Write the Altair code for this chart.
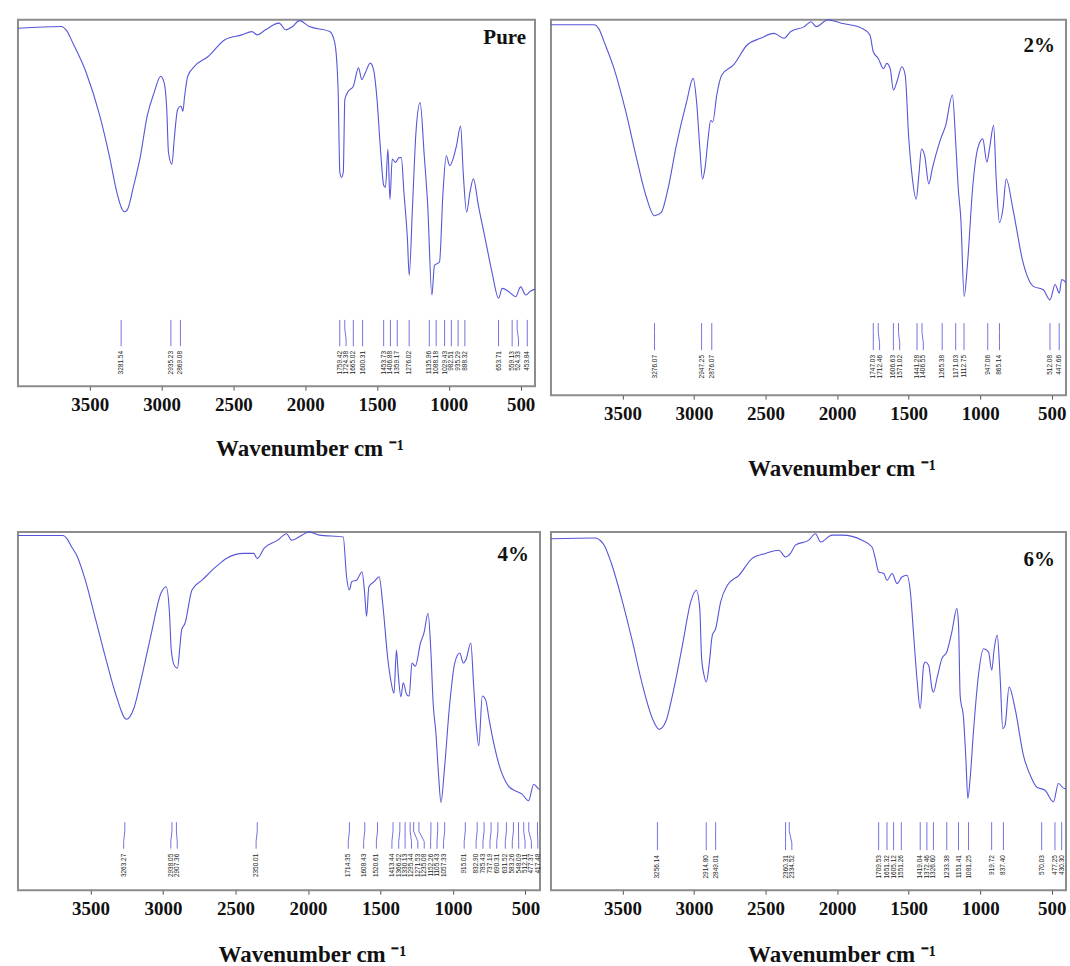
import altair as alt
import pandas as pd

# ---------------- data ----------------
panel_names = ["Pure", "2%", "4%", "6%"]

pure_wn = [4000, 3700, 3660, 3618, 3524, 3430, 3359, 3312, 3276, 3260, 3241, 3194, 3147, 3100, 3053, 3006,
           2982, 2964, 2952, 2928, 2912, 2888, 2865, 2852, 2840, 2818, 2771, 2676, 2559, 2441, 2371,
           2335, 2276, 2182, 2135, 2088, 2041, 1971, 1829, 1794, 1771, 1759, 1747, 1735, 1724, 1700,
           1665, 1629, 1606, 1582, 1547, 1524, 1500, 1476, 1453, 1441, 1424, 1410, 1394, 1371, 1347,
           1331, 1312, 1288, 1276, 1253, 1229, 1200, 1171, 1147, 1118, 1100, 1065, 1041, 1018, 994,
           971, 947, 918, 900, 876, 853, 829, 794, 747, 700, 653, 629, 582, 535, 500, 465, 430, 400]
pure_t = [97.7, 98.2, 97.0, 93.7, 85.5, 73.8, 62.0, 53.0, 48.4, 47.6, 48.0, 54.8, 62.9, 73.8, 80.0, 84.6,
          82.8, 75.6, 63.8, 60.6, 67.4, 75.6, 76.5, 75.0, 79.0, 84.6, 87.3, 90.0, 94.6, 95.9, 96.8,
          95.9, 97.3, 99.1, 97.3, 98.2, 99.8, 98.2, 96.8, 93.7, 81.0, 58.4, 57.0, 58.4, 78.3, 80.5,
          81.9, 86.9, 83.7, 85.5, 88.2, 86.4, 78.3, 64.7, 54.8, 54.3, 64.7, 51.0, 62.0, 61.1, 62.4,
          62.4, 52.6, 40.0, 30.3, 49.0, 69.2, 77.4, 62.9, 49.3, 24.9, 33.0, 33.9, 52.6, 62.9, 60.2,
          62.0, 65.6, 71.0, 58.4, 47.5, 52.9, 56.6, 49.3, 40.3, 31.2, 24.0, 26.7, 25.8, 24.4, 27.1,
          24.9, 26.0, 26.5]

p2_wn = [4000, 3700, 3665, 3629, 3559, 3476, 3406, 3335, 3276, 3229, 3182, 3124, 3053, 3006, 2982, 2959,
         2941, 2924, 2900, 2884, 2869, 2841, 2806, 2724, 2629, 2535, 2441, 2371, 2324, 2229, 2182,
         2147, 2065, 1971, 1829, 1771, 1747, 1712, 1676, 1653, 1629, 1606, 1582, 1547, 1524, 1500,
         1476, 1447, 1429, 1410, 1388, 1359, 1335, 1276, 1241, 1194, 1171, 1153, 1135, 1112, 1088,
         1053, 1018, 982, 953, 935, 906, 888, 865, 841, 818, 771, 700, 629, 559, 512, 476, 447, 430, 400]
p2_t = [98.7, 98.7, 97.6, 94.2, 87.0, 75.4, 63.8, 53.0, 47.8, 48.7, 55.0, 66.5, 78.0, 84.4, 78.1, 65.6,
        57.6, 60.3, 69.0, 73.2, 72.8, 80.0, 85.3, 88.0, 93.3, 95.1, 96.4, 95.1, 96.9, 98.2, 99.5,
        98.2, 100.0, 99.1, 97.8, 96.0, 91.5, 89.7, 87.0, 88.4, 87.0, 81.3, 83.5, 87.5, 85.3, 69.0,
        58.5, 52.2, 58.5, 65.6, 63.8, 56.3, 60.3, 68.3, 71.9, 80.0, 67.4, 55.0, 46.9, 26.3, 35.3,
        55.0, 65.6, 68.3, 62.1, 65.6, 71.9, 57.6, 46.0, 49.6, 57.6, 49.6, 35.3, 29.0, 28.1, 25.4,
        29.5, 27.2, 30.8, 30.0]

p4_wn = [4000, 3690, 3660, 3630, 3595, 3536, 3464, 3393, 3322, 3251, 3203, 3156, 3085, 3014, 2978, 2955,
         2943, 2919, 2900, 2883, 2871, 2848, 2800, 2729, 2634, 2563, 2444, 2374, 2350, 2303, 2208,
         2148, 2113, 2042, 1994, 1923, 1757, 1734, 1715, 1698, 1663, 1627, 1610, 1596, 1580, 1544,
         1509, 1485, 1449, 1426, 1407, 1390, 1378, 1359, 1343, 1319, 1302, 1283, 1260, 1224, 1200,
         1172, 1153, 1137, 1118, 1099, 1083, 1059, 1024, 988, 953, 929, 910, 877, 858, 839, 822,
         798, 775, 751, 715, 680, 620, 573, 526, 479, 443, 405, 400]
p4_t = [99.0, 99.0, 98.0, 95.8, 93.5, 86.6, 75.5, 64.4, 54.2, 47.7, 50.5, 57.9, 70.8, 82.9, 84.7, 77.3,
        67.1, 62.5, 62.0, 68.1, 72.7, 74.5, 83.8, 86.6, 90.3, 92.6, 94.0, 94.0, 92.6, 95.4, 97.7,
        99.5, 97.7, 99.1, 100.0, 99.1, 98.6, 87.5, 83.8, 86.1, 86.6, 88.9, 83.3, 76.4, 84.7, 86.1,
        87.5, 80.1, 64.4, 57.9, 55.0, 67.0, 60.6, 54.0, 57.9, 54.6, 54.2, 63.4, 62.5, 69.0, 71.8,
        77.3, 67.1, 52.3, 44.0, 31.9, 24.5, 33.8, 51.4, 63.4, 66.2, 63.4, 64.4, 69.0, 57.4, 45.8,
        40.3, 54.2, 53.2, 47.7, 40.3, 34.7, 29.2, 27.8, 26.9, 25.0, 29.6, 28.2, 28.2]

p6_wn = [4000, 3686, 3655, 3628, 3581, 3500, 3430, 3360, 3291, 3244, 3198, 3151, 3081, 3023, 2984, 2960,
         2947, 2930, 2914, 2895, 2872, 2849, 2814, 2767, 2686, 2593, 2500, 2407, 2360, 2326, 2291,
         2198, 2151, 2116, 2035, 1965, 1826, 1756, 1733, 1709, 1674, 1651, 1616, 1581, 1547, 1512,
         1488, 1465, 1442, 1419, 1395, 1384, 1360, 1337, 1326, 1302, 1267, 1233, 1198, 1163, 1151,
         1140, 1116, 1100, 1086, 1070, 1047, 1012, 977, 942, 919, 902, 881, 860, 842, 826, 798,
         756, 698, 640, 605, 547, 488, 453, 412, 400]
p6_t = [98.1, 98.3, 97.6, 96.3, 91.6, 80.5, 69.3, 57.2, 47.9, 44.9, 47.0, 54.4, 68.4, 80.5, 83.7, 78.6,
        64.7, 60.0, 58.1, 62.8, 71.2, 73.0, 80.5, 85.1, 87.9, 92.6, 94.0, 94.9, 93.0, 94.0, 96.3,
        97.7, 99.5, 97.2, 99.1, 99.1, 97.7, 95.8, 92.6, 88.8, 88.4, 86.5, 88.4, 85.6, 87.4, 87.9,
        83.3, 71.2, 59.1, 50.7, 62.8, 63.7, 62.8, 56.3, 55.3, 59.1, 64.7, 66.5, 72.1, 78.6, 73.9,
        54.4, 47.9, 36.7, 25.6, 31.2, 44.2, 60.0, 67.4, 66.5, 61.4, 67.4, 71.2, 59.1, 45.1, 46.0,
        56.7, 50.7, 37.7, 31.2, 28.8, 27.9, 24.7, 29.8, 28.4, 28.4]

pure_peaks = [3281.54, 2935.23, 2869.08, 1759.42, 1724.38, 1665.02, 1600.31, 1453.73, 1406.88,
              1359.17, 1276.02, 1135.96, 1088.18, 1029.43, 982.51, 935.29, 888.32, 653.71, 559.13,
              524.33, 453.84]
p2_peaks = [3276.07, 2947.25, 2876.07, 1747.03, 1712.46, 1606.63, 1571.02, 1441.28, 1406.55,
            1265.38, 1171.03, 1112.75, 947.06, 865.14, 512.08, 447.66]
p4_peaks = [3263.27, 2938.05, 2907.36, 2350.01, 1714.35, 1608.43, 1520.61, 1413.44, 1366.52,
            1330.13, 1295.44, 1271.53, 1235.08, 1152.26, 1105.43, 1057.33, 915.01, 832.90, 785.43,
            737.19, 690.31, 631.52, 583.26, 548.09, 512.11, 477.37, 417.48]
p6_peaks = [3256.14, 2914.80, 2849.01, 2360.31, 2334.52, 1709.53, 1651.32, 1605.12, 1551.26,
            1419.04, 1372.46, 1326.60, 1233.38, 1151.41, 1081.25, 919.72, 837.40, 570.03, 477.25,
            430.30]

x_ticks = [3500, 3000, 2500, 2000, 1500, 1000, 500]
axis_title = "Wavenumber cm \u207b\u00b9"

# ---------------- style ----------------
CURVE = "#5656d8"
MARK = "#7272e2"
FRAME = "#8c8c8c"
SERIF = "Liberation Serif"


def spread(peaks, gap=44.0):
    pk = sorted(peaks, reverse=True)
    lx = []
    for p in pk:
        if lx and lx[-1] - p < gap:
            lx.append(lx[-1] - gap)
        else:
            lx.append(p)
    # keep labels inside the plot: shift a crowded tail back to the right
    lo = 415.0
    if lx and lx[-1] < lo:
        shift = lo - lx[-1]
        lx = [v + shift if v - shift < p_ else v for v, p_ in zip(lx, pk)]
        lx2 = []
        for v in reversed(lx):
            if lx2 and v - lx2[-1] < gap:
                v = lx2[-1] + gap
            lx2.append(max(v, lo))
        lx = list(reversed(lx2))
    return pk, lx


def make_panel(name, wn, t, peaks, width, height, levels, lab_dx, lab_dy, title_y):
    top, bot, ltop = levels
    curve = pd.DataFrame({"wn": wn, "t": t})
    pk, lx = spread(peaks)
    pk_df = pd.DataFrame({"wn": pk, "lx": lx, "label": [f"{p:.2f}" for p in pk]})

    xs = alt.Scale(domain=[400, 4000], reverse=True, nice=False, zero=False)
    ys = alt.Scale(domain=[0, 100], nice=False, zero=False)
    xax = alt.Axis(values=x_ticks, grid=False, domain=False, tickSize=4, tickColor="#555",
                   labelFont=SERIF, labelFontSize=19, labelFontWeight="bold", labelColor="#111",
                   labelPadding=5, labelFlush=False, labelOverlap=False,
                   titleFont=SERIF, titleFontSize=23, titleFontWeight="bold", titleColor="#111",
                   titleX=width / 2 + 33, titleY=title_y, titleBaseline="alphabetic",
                   titleAlign="center", format="d")

    def X(field):
        return alt.X(field, scale=xs, axis=xax, title=axis_title)

    line = alt.Chart(curve).mark_line(color=CURVE, strokeWidth=1.1, interpolate="monotone").encode(
        x=X("wn:Q"), y=alt.Y("t:Q", scale=ys, axis=None))

    mid1 = top - 2.5
    mid2 = bot + 2.0
    seg1 = alt.Chart(pk_df).mark_rule(color=MARK, strokeWidth=1).encode(
        x=X("wn:Q"), y=alt.datum(top), y2=alt.datum(mid1))
    seg2 = alt.Chart(pk_df).mark_rule(color=MARK, strokeWidth=1).encode(
        x=X("wn:Q"), x2="lx:Q", y=alt.datum(mid1), y2=alt.datum(mid2))
    seg3 = alt.Chart(pk_df).mark_rule(color=MARK, strokeWidth=1).encode(
        x=X("lx:Q"), y=alt.datum(mid2), y2=alt.datum(bot))
    labels = alt.Chart(pk_df).mark_text(angle=270, align="right", baseline="middle",
                                        font="Liberation Sans", fontSize=6.5, color="#222").encode(
        x=X("lx:Q"), y=alt.datum(ltop), text="label:N")

    tag = alt.Chart(pd.DataFrame({"name": [name]})).mark_text(
        align="right", baseline="middle", font=SERIF, fontSize=21, fontWeight="bold",
        color="#111").encode(x=alt.value(width - lab_dx), y=alt.value(lab_dy), text="name:N")

    return alt.layer(line, seg1, seg2, seg3, labels, tag).properties(width=width, height=height)


p1 = make_panel(panel_names[0], pure_wn, pure_t, pure_peaks, 518, 367, (18.1, 10.9, 9.6), 9, 18, 69.5)
p2 = make_panel(panel_names[1], p2_wn, p2_t, p2_peaks, 516, 376, (19.2, 12.0, 10.7), 11, 26, 80.5)
p3 = make_panel(panel_names[2], p4_wn, p4_t, p4_peaks, 523, 359, (19.0, 11.6, 10.2), 11, 23, 71.5)
p4 = make_panel(panel_names[3], p6_wn, p6_t, p6_peaks, 516, 359, (19.0, 11.2, 9.8), 11, 28, 71.5)

chart = alt.concat(p1, p2, p3, p4, columns=2, spacing={"row": 137, "column": 11},
                   bounds="flush").properties(
    padding={"left": 14, "top": 15, "right": 0, "bottom": 0},
    background="white",
).configure_view(stroke=FRAME, strokeWidth=2)

chart.save("out.html", embed_options={"renderer": "svg", "actions": False})
